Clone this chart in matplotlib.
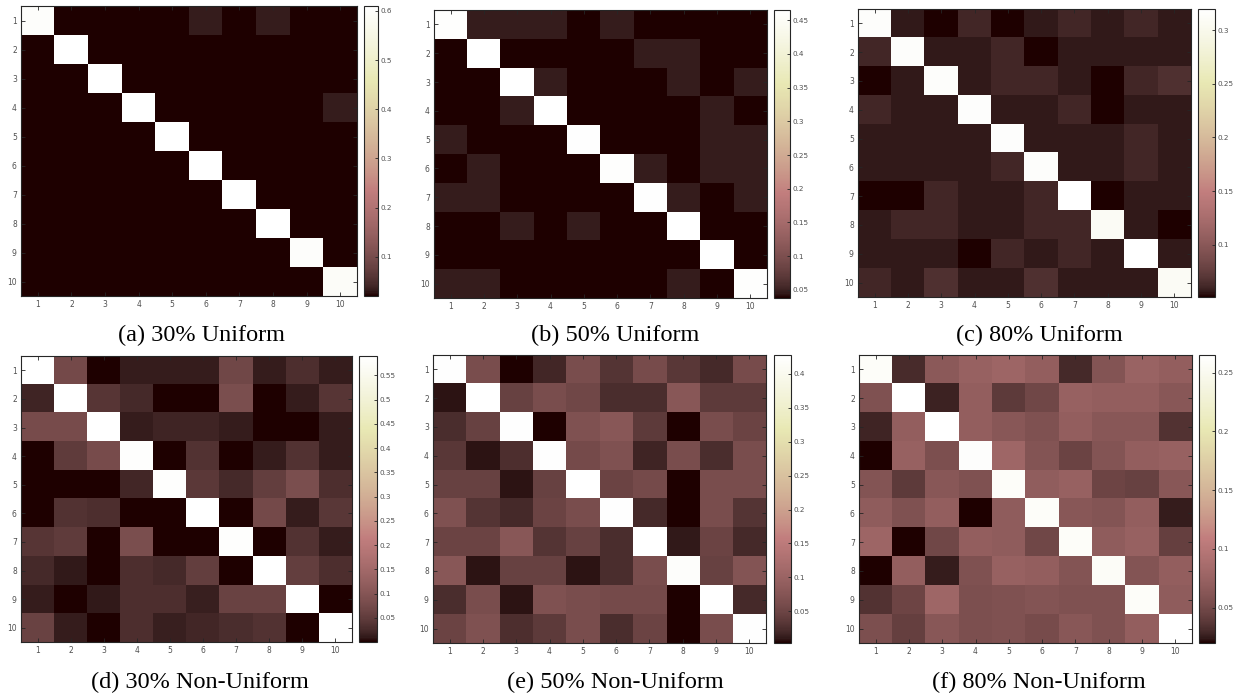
import numpy as np
import matplotlib.pyplot as plt

# ---- data: 10x10 matrices ----
labels = [str(i) for i in range(1, 11)]

uni30 = [
    [0.600, 0.020, 0.020, 0.020, 0.020, 0.033, 0.020, 0.033, 0.020, 0.020],
    [0.020, 0.610, 0.020, 0.020, 0.020, 0.020, 0.020, 0.020, 0.020, 0.020],
    [0.020, 0.020, 0.610, 0.020, 0.020, 0.020, 0.020, 0.020, 0.020, 0.020],
    [0.020, 0.020, 0.020, 0.610, 0.020, 0.020, 0.020, 0.020, 0.020, 0.033],
    [0.020, 0.020, 0.020, 0.020, 0.610, 0.020, 0.020, 0.020, 0.020, 0.020],
    [0.020, 0.020, 0.020, 0.020, 0.020, 0.610, 0.020, 0.020, 0.020, 0.020],
    [0.020, 0.020, 0.020, 0.020, 0.020, 0.020, 0.610, 0.020, 0.020, 0.020],
    [0.020, 0.020, 0.020, 0.020, 0.020, 0.020, 0.020, 0.610, 0.020, 0.020],
    [0.020, 0.020, 0.020, 0.020, 0.020, 0.020, 0.020, 0.020, 0.600, 0.020],
    [0.020, 0.020, 0.020, 0.020, 0.020, 0.020, 0.020, 0.020, 0.020, 0.595],
]

uni50 = [
    [0.460, 0.047, 0.047, 0.047, 0.038, 0.047, 0.038, 0.038, 0.038, 0.038],
    [0.038, 0.465, 0.038, 0.038, 0.038, 0.038, 0.047, 0.047, 0.038, 0.038],
    [0.038, 0.038, 0.465, 0.047, 0.038, 0.038, 0.038, 0.047, 0.038, 0.047],
    [0.038, 0.038, 0.047, 0.465, 0.038, 0.038, 0.038, 0.038, 0.047, 0.038],
    [0.047, 0.038, 0.038, 0.038, 0.462, 0.038, 0.038, 0.038, 0.047, 0.047],
    [0.038, 0.047, 0.038, 0.038, 0.038, 0.460, 0.047, 0.038, 0.047, 0.047],
    [0.047, 0.047, 0.038, 0.038, 0.038, 0.038, 0.462, 0.047, 0.038, 0.047],
    [0.038, 0.038, 0.047, 0.038, 0.047, 0.038, 0.038, 0.465, 0.038, 0.038],
    [0.038, 0.038, 0.038, 0.038, 0.038, 0.038, 0.038, 0.038, 0.465, 0.038],
    [0.047, 0.047, 0.038, 0.038, 0.038, 0.038, 0.038, 0.047, 0.038, 0.460],
]

uni80 = [
    [0.315, 0.056, 0.051, 0.061, 0.051, 0.056, 0.061, 0.056, 0.061, 0.056],
    [0.061, 0.315, 0.056, 0.056, 0.061, 0.051, 0.056, 0.056, 0.056, 0.056],
    [0.051, 0.056, 0.315, 0.056, 0.061, 0.061, 0.056, 0.051, 0.061, 0.066],
    [0.061, 0.056, 0.056, 0.316, 0.056, 0.056, 0.061, 0.051, 0.056, 0.056],
    [0.056, 0.056, 0.056, 0.056, 0.316, 0.056, 0.056, 0.056, 0.061, 0.056],
    [0.056, 0.056, 0.056, 0.056, 0.061, 0.315, 0.056, 0.056, 0.061, 0.056],
    [0.051, 0.051, 0.061, 0.056, 0.056, 0.061, 0.320, 0.051, 0.056, 0.056],
    [0.056, 0.061, 0.061, 0.056, 0.056, 0.061, 0.061, 0.310, 0.056, 0.051],
    [0.056, 0.056, 0.056, 0.051, 0.061, 0.056, 0.061, 0.056, 0.320, 0.056],
    [0.061, 0.056, 0.066, 0.056, 0.056, 0.066, 0.056, 0.056, 0.056, 0.310],
]

nonuni30 = [
    [0.590, 0.075, 0.000, 0.012, 0.012, 0.012, 0.070, 0.012, 0.030, 0.012],
    [0.020, 0.590, 0.040, 0.025, 0.000, 0.000, 0.085, 0.000, 0.012, 0.040],
    [0.080, 0.080, 0.590, 0.012, 0.020, 0.020, 0.012, 0.000, 0.000, 0.012],
    [0.000, 0.050, 0.080, 0.585, 0.000, 0.035, 0.000, 0.012, 0.035, 0.012],
    [0.000, 0.000, 0.000, 0.022, 0.585, 0.045, 0.025, 0.055, 0.085, 0.030],
    [0.000, 0.035, 0.030, 0.000, 0.000, 0.590, 0.000, 0.075, 0.012, 0.042],
    [0.040, 0.050, 0.000, 0.085, 0.000, 0.000, 0.585, 0.000, 0.035, 0.012],
    [0.025, 0.010, 0.000, 0.030, 0.025, 0.055, 0.000, 0.590, 0.055, 0.030],
    [0.012, 0.000, 0.010, 0.030, 0.030, 0.015, 0.060, 0.060, 0.590, 0.000],
    [0.060, 0.012, 0.000, 0.030, 0.015, 0.022, 0.028, 0.035, 0.000, 0.590],
]

nonuni50 = [
    [0.425, 0.062, 0.003, 0.019, 0.062, 0.030, 0.060, 0.033, 0.020, 0.060],
    [0.008, 0.428, 0.045, 0.062, 0.053, 0.023, 0.023, 0.078, 0.037, 0.037],
    [0.023, 0.045, 0.425, 0.003, 0.068, 0.078, 0.037, 0.003, 0.062, 0.048],
    [0.033, 0.008, 0.026, 0.425, 0.058, 0.068, 0.017, 0.062, 0.023, 0.062],
    [0.045, 0.045, 0.008, 0.045, 0.428, 0.048, 0.058, 0.003, 0.062, 0.062],
    [0.068, 0.030, 0.020, 0.048, 0.062, 0.425, 0.020, 0.003, 0.062, 0.030],
    [0.048, 0.048, 0.078, 0.030, 0.045, 0.023, 0.428, 0.011, 0.048, 0.020],
    [0.078, 0.008, 0.045, 0.045, 0.008, 0.023, 0.062, 0.420, 0.045, 0.074],
    [0.023, 0.062, 0.008, 0.068, 0.062, 0.058, 0.058, 0.003, 0.428, 0.020],
    [0.048, 0.068, 0.026, 0.037, 0.062, 0.023, 0.048, 0.003, 0.062, 0.425],
]

nonuni80 = [
    [0.260, 0.031, 0.065, 0.074, 0.079, 0.071, 0.030, 0.061, 0.076, 0.071],
    [0.058, 0.265, 0.027, 0.071, 0.040, 0.049, 0.074, 0.071, 0.071, 0.064],
    [0.028, 0.071, 0.265, 0.071, 0.064, 0.058, 0.071, 0.064, 0.064, 0.035],
    [0.020, 0.074, 0.056, 0.262, 0.080, 0.061, 0.046, 0.061, 0.071, 0.074],
    [0.061, 0.040, 0.064, 0.058, 0.260, 0.069, 0.074, 0.047, 0.044, 0.064],
    [0.068, 0.058, 0.071, 0.020, 0.068, 0.260, 0.064, 0.061, 0.071, 0.025],
    [0.079, 0.020, 0.049, 0.071, 0.068, 0.049, 0.260, 0.068, 0.074, 0.043],
    [0.020, 0.071, 0.025, 0.058, 0.074, 0.071, 0.061, 0.258, 0.061, 0.071],
    [0.035, 0.047, 0.080, 0.056, 0.058, 0.061, 0.058, 0.058, 0.260, 0.068],
    [0.056, 0.043, 0.064, 0.056, 0.058, 0.053, 0.064, 0.058, 0.071, 0.265],
]

matrices = [uni30, uni50, uni80, nonuni30, nonuni50, nonuni80]
captions = ["(a) 30% Uniform", "(b) 50% Uniform", "(c) 80% Uniform",
            "(d) 30% Non-Uniform", "(e) 50% Non-Uniform", "(f) 80% Non-Uniform"]
cbar_ticks = [
    [0.1, 0.2, 0.3, 0.4, 0.5, 0.6],
    [0.05, 0.1, 0.15, 0.2, 0.25, 0.3, 0.35, 0.4, 0.45],
    [0.1, 0.15, 0.2, 0.25, 0.3],
    [0.05, 0.1, 0.15, 0.2, 0.25, 0.3, 0.35, 0.4, 0.45, 0.5, 0.55],
    [0.05, 0.1, 0.15, 0.2, 0.25, 0.3, 0.35, 0.4],
    [0.05, 0.1, 0.15, 0.2, 0.25],
]

# ---- layout in pixels: (ax left, ax top, ax right, ax bottom, cbar left, cbar right, caption x, caption y)
W, H = 1233, 698
boxes = [
    (21, 6, 357, 296, 364, 378, 202, 335),
    (434, 10, 767, 298, 774, 790, 615, 335),
    (858, 9, 1191, 297, 1198, 1215, 1039, 335),
    (21, 356, 352, 642, 359, 377, 200, 682),
    (433, 355, 766, 643, 774, 791, 615, 682),
    (859, 355, 1192, 643, 1199, 1215, 1039, 682),
]

tick_color = '#505050'
edge_color = '#262626'

fig = plt.figure(figsize=(W / 100, H / 100), dpi=100)

for m, cap, ct, b in zip(matrices, captions, cbar_ticks, boxes):
    l, t, r, bt, cl, cr, tx, ty = b
    ax = fig.add_axes([l / W, 1 - bt / H, (r - l) / W, (bt - t) / H])
    data = np.array(m)
    im = ax.imshow(data, cmap='pink', aspect='auto', interpolation='nearest',
                   vmin=data.min(), vmax=data.max())
    ax.set_xticks(range(10))
    ax.set_yticks(range(10))
    ax.set_xticklabels(labels)
    ax.set_yticklabels(labels)
    ax.tick_params(direction='in', length=3, width=0.6, labelsize=5.5,
                   colors=edge_color, labelcolor=tick_color, pad=3,
                   top=True, right=True)
    for s in ax.spines.values():
        s.set_color(edge_color)
        s.set_linewidth(0.8)

    cax = fig.add_axes([cl / W, 1 - bt / H, (cr - cl) / W, (bt - t) / H])
    cb = fig.colorbar(im, cax=cax, ticks=ct)
    cb.ax.set_yticklabels(['%g' % v for v in ct])
    cb.ax.tick_params(direction='in', length=2.5, width=0.6, labelsize=5.2,
                      colors=edge_color, labelcolor=tick_color, pad=1.5)
    cb.outline.set_edgecolor(edge_color)
    cb.outline.set_linewidth(0.8)

    fig.text(tx / W, 1 - ty / H, cap, ha='center', va='center',
             family='Liberation Serif', fontsize=17.5, color='black')

fig.savefig('out.png', dpi=100)
